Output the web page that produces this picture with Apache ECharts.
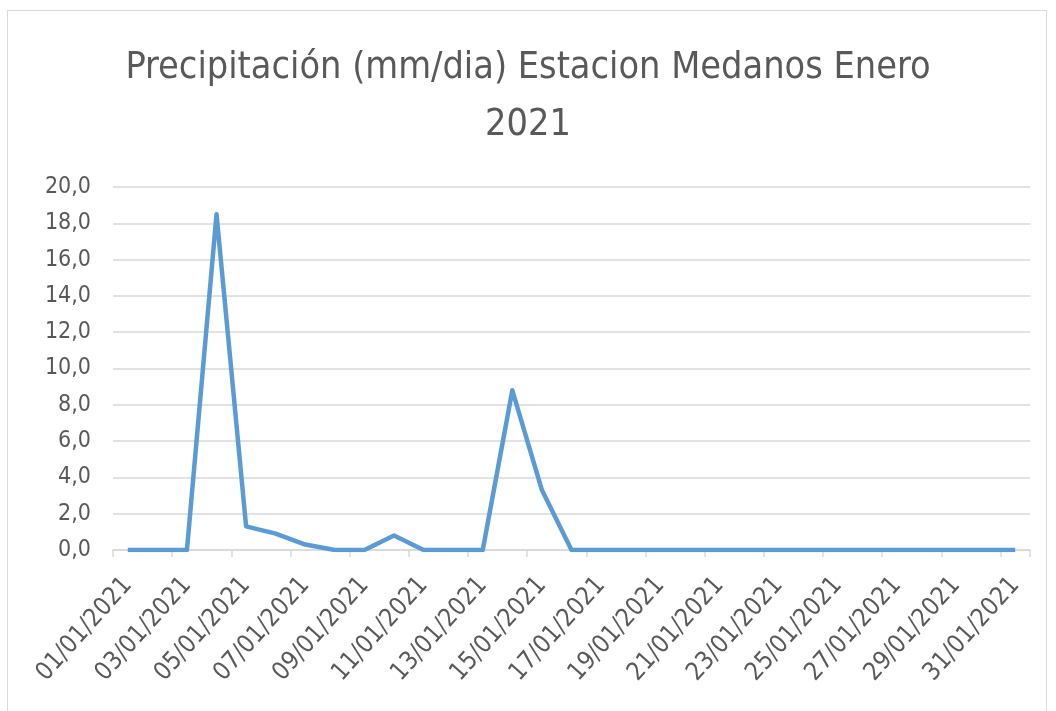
<!DOCTYPE html>
<html>

<head>
	<meta charset="utf-8">
	<title>Precipitación Estacion Medanos Enero 2021</title>
	<script type="text/javascript" src="https://cdn.jsdelivr.net/npm/echarts@6/dist/echarts.min.js"></script>
	<style>
		html, body { margin: 0; padding: 0; background: #fff; }
		#frame { position: absolute; left: 7px; top: 10px; width: 1040px; height: 710px; border: 1px solid #d9d9d9; box-sizing: border-box; }
		#main { position: absolute; left: 0; top: 0; width: 1056px; height: 711px; }
	</style>
</head>

<body>
	<div id="frame"></div>
	<div id="main"></div>
	<script type="text/javascript">
		// datos de enero 2021
		var dias = [];
		for (var d = 1; d <= 31; d++) {
			dias.push((d < 10 ? '0' + d : '' + d) + '/01/2021');
		}
		var precipitacion = [
			0, 0, 0, 18.5, 1.3, 0.9, 0.3, 0, 0, 0.8,
			0, 0, 0, 8.8, 3.3, 0, 0, 0, 0, 0,
			0, 0, 0, 0, 0, 0, 0, 0, 0, 0, 0
		];
		var yTicks = [0, 2, 4, 6, 8, 10, 12, 14, 16, 18, 20];

		var myChart = echarts.init(document.getElementById('main'));
		var font = '"DejaVu Sans Condensed", sans-serif';

		var option = {
			backgroundColor: 'transparent',
			title: {
				text: 'Precipitación (mm/dia) Estacion Medanos Enero\n2021',
				left: 'center',
				top: 35,
				textStyle: {
					fontFamily: font,
					fontSize: 37.5,
					fontWeight: 'normal',
					color: '#595959',
					lineHeight: 57
				}
			},
			grid: { left: 113, right: 26, top: 187, bottom: 161 },
			xAxis: {
				type: 'category',
				data: dias,
				boundaryGap: true,
				axisLine: { lineStyle: { color: '#d9d9d9', width: 1.5 } },
				axisTick: { show: true, interval: 1, length: 7, lineStyle: { color: '#d9d9d9', width: 1.5 } },
				axisLabel: {
					interval: 1,
					rotate: 48,
					margin: 31,
					color: '#595959',
					fontFamily: font,
					fontSize: 25
				}
			},
			yAxis: {
				type: 'value',
				min: yTicks[0],
				max: yTicks[yTicks.length - 1],
				interval: 2,
				axisLine: { show: false },
				axisTick: { show: false },
				axisLabel: {
					color: '#595959',
					fontFamily: font,
					fontSize: 23,
					margin: 22,
					formatter: function (v) { return v.toFixed(1).replace('.', ','); }
				},
				splitLine: { lineStyle: { color: '#d9d9d9', width: 1.5 } }
			},
			series: [{
				type: 'line',
				data: precipitacion,
				showSymbol: false,
				symbol: 'none',
				lineStyle: { color: '#5b9bd5', width: 4.5, join: 'round' },
				animation: false
			}]
		};

		myChart.setOption(option);
	</script>
</body>

</html>
